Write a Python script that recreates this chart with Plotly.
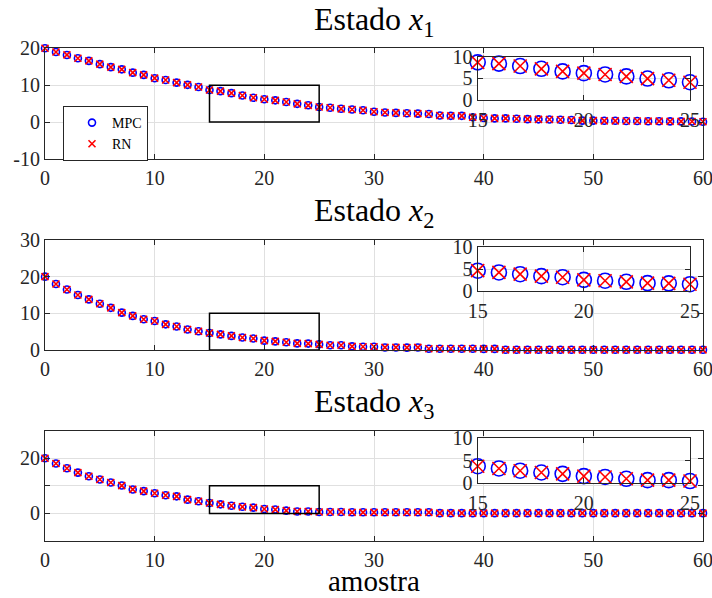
import plotly.graph_objects as go

# ---------------- data ----------------
samples = list(range(61))

x1_mpc = [20.0, 19.0, 18.2, 17.3, 16.6, 15.7, 14.9, 14.3, 13.4, 12.8,
          11.9, 11.4, 10.7, 10.1, 9.5, 8.7, 8.4, 7.85, 7.2, 6.6,
          6.2, 5.9, 5.45, 4.95, 4.55, 4.1, 3.9, 3.6, 3.4, 3.2,
          2.8, 2.6, 2.5, 2.4, 2.3, 2.2, 1.8, 1.7, 1.7, 1.3,
          1.1, 1.0, 1.0, 0.9, 0.8, 0.75, 0.7, 0.65, 0.55, 0.4,
          0.4, 0.35, 0.35, 0.3, 0.3, 0.25, 0.25, 0.2, 0.2, 0.15, 0.1]
x1_rn = list(x1_mpc)

x2_mpc = [20.0, 18.0, 16.5, 15.0, 13.8, 12.6, 11.5, 10.2, 9.3, 8.4,
          7.9, 7.0, 6.4, 5.6, 5.1, 4.65, 4.25, 3.85, 3.4, 3.15,
          2.55, 2.35, 2.1, 1.8, 1.75, 1.55, 1.3, 1.3, 1.0, 0.9,
          0.9, 0.7, 0.7, 0.65, 0.7, 0.35, 0.35, 0.35, 0.35, 0.35,
          0.3, 0.3, 0.05, 0.05, 0.05, 0.05, 0.05, 0.05, 0.05, 0.05,
          0.05, 0.05, 0.05, 0.05, 0.05, 0.05, 0.05, 0.05, 0.05, 0.05, 0.05]
x2_rn = list(x2_mpc)

x3_mpc = [20.0, 18.1, 16.4, 14.8, 13.5, 12.3, 11.2, 10.1, 8.7, 8.1,
          7.3, 6.6, 6.2, 5.0, 4.4, 3.8, 3.3, 2.8, 2.4, 2.1,
          1.6, 1.4, 1.0, 0.7, 0.7, 0.5, 0.5, 0.5, 0.4, 0.4,
          0.4, 0.4, 0.4, 0.4, 0.4, 0.4, 0.1, 0.1, 0.1, 0.1,
          0.1, 0.1, 0.1, 0.1, 0.1, 0.1, 0.1, 0.1, 0.1, 0.1,
          0.1, 0.1, 0.1, 0.1, 0.1, 0.1, 0.1, 0.1, 0.1, 0.1, 0.1]
x3_rn = list(x3_mpc)

titles = ["Estado <i>x</i><sub>1</sub>", "Estado <i>x</i><sub>2</sub>", "Estado <i>x</i><sub>3</sub>"]
x_label = "amostra"
series_names = ["MPC", "RN"]
zoom_x = [15, 25]
zoom_y = [0, 10]
main_xticks = [0, 10, 20, 30, 40, 50, 60]
inset_xticks = [15, 20, 25]
inset_yticks = [0, 5, 10]
y1_ticks = [-10, 0, 10, 20]
y1_text = ["-10", "0", "10", "20"]
y2_ticks = [0, 10, 20, 30]
y2_text = ["0", "10", "20", "30"]
y3_ticks = [-10, 0, 10, 20, 30]
y3_text = ["", "0", "", "20", ""]

# ---------------- layout geometry ----------------
W, H = 712, 598
def px_x(a, b):
    return [a / W, b / W]
def px_y(top, bottom):
    return [1 - bottom / H, 1 - top / H]

main_xdom = px_x(45, 703)
main_ydoms = [px_y(48.3, 159), px_y(240, 350), px_y(430.7, 541)]
inset_xdom = px_x(477.7, 690)
inset_ydoms = [px_y(56.7, 100), px_y(247.3, 291), px_y(438.3, 483.3)]

FONT = "Liberation Serif"
AX = "#262626"
GRID = "#e0e0e0"
BLUE = "#0000ff"
RED = "#ff0000"

fig = go.Figure()

data = [(x1_mpc, x1_rn), (x2_mpc, x2_rn), (x3_mpc, x3_rn)]

for i, (mpc, rn) in enumerate(data):
    mx = "x" if i == 0 else f"x{i+1}"
    my = "y" if i == 0 else f"y{i+1}"
    ix = f"x{i+4}"
    iy = f"y{i+4}"
    # main
    fig.add_trace(go.Scatter(x=samples, y=mpc, mode="markers", name=series_names[0],
                             marker=dict(symbol="circle-open", size=7, color=BLUE, line=dict(width=1.6, color=BLUE)),
                             xaxis=mx, yaxis=my, showlegend=(i == 0), cliponaxis=False, legendgroup="mpc"))
    fig.add_trace(go.Scatter(x=samples, y=rn, mode="markers", name=series_names[1],
                             marker=dict(symbol="x-thin-open", size=7, color=RED, line=dict(width=1.6, color=RED)),
                             xaxis=mx, yaxis=my, showlegend=(i == 0), cliponaxis=False, legendgroup="rn"))
    # inset
    sel = [k for k in samples if zoom_x[0] <= k <= zoom_x[1]]
    fig.add_trace(go.Scatter(x=sel, y=[mpc[k] for k in sel], mode="markers",
                             marker=dict(symbol="circle-open", size=15, color=BLUE, line=dict(width=1.6, color=BLUE)),
                             xaxis=ix, yaxis=iy, showlegend=False, cliponaxis=False))
    fig.add_trace(go.Scatter(x=sel, y=[rn[k] for k in sel], mode="markers",
                             marker=dict(symbol="x-thin-open", size=13, color=RED, line=dict(width=1.6, color=RED)),
                             xaxis=ix, yaxis=iy, showlegend=False, cliponaxis=False))
    # zoom box
    fig.add_shape(type="rect", xref=mx, yref=my, x0=zoom_x[0], x1=zoom_x[1], y0=zoom_y[0], y1=zoom_y[1],
                  line=dict(color="black", width=1.5), layer="above")

common = dict(showgrid=True, gridcolor=GRID, gridwidth=1, showline=True, linecolor=AX, linewidth=1.2,
              mirror="ticks", ticks="inside", ticklen=5, tickcolor=AX, zeroline=False, automargin=False,
              ticklabeloverflow="allow",
              tickfont=dict(family=FONT, size=20, color=AX))

ytick_sets = [(y1_ticks, y1_text, [-10, 20]), (y2_ticks, y2_text, [0, 30]), (y3_ticks, y3_text, [-10, 30])]
lay = {}
for i in range(3):
    sx = "" if i == 0 else str(i + 1)
    lay[f"xaxis{sx}"] = dict(common, domain=main_xdom, anchor=f"y{sx}", range=[0, 60],
                              tickvals=main_xticks, ticklabelstandoff=1)
    tv, tt, rg = ytick_sets[i]
    lay[f"yaxis{sx}"] = dict(common, domain=main_ydoms[i], anchor=f"x{sx}", range=rg,
                              tickvals=tv, ticktext=tt, ticklabelstandoff=0)
    j = str(i + 4)
    lay[f"xaxis{j}"] = dict(common, domain=inset_xdom, anchor=f"y{j}", range=zoom_x,
                             tickvals=inset_xticks, ticklabelstandoff=2)
    lay[f"yaxis{j}"] = dict(common, domain=inset_ydoms[i], anchor=f"x{j}", range=zoom_y,
                             tickvals=inset_yticks, ticklabelstandoff=0)

fig.update_layout(**lay)

title_y = [22, 212, 403]
for i, t in enumerate(titles):
    fig.add_annotation(text=t, xref="paper", yref="paper", x=374 / W, y=1 - title_y[i] / H,
                       xanchor="center", yanchor="middle", showarrow=False,
                       font=dict(family=FONT, size=32, color="black"))
fig.add_annotation(text=x_label, xref="paper", yref="paper", x=374 / W, y=0,
                   xanchor="center", yanchor="bottom", showarrow=False, borderpad=0,
                   font=dict(family=FONT, size=29, color="black"))

fig.update_layout(
    width=W, height=H, margin=dict(l=0, r=0, t=0, b=0, autoexpand=False),
    paper_bgcolor="white", plot_bgcolor="white",
    showlegend=True,
    legend=dict(x=63 / W, y=1 - 106 / H, xanchor="left", yanchor="top",
                bgcolor="white", bordercolor=AX, borderwidth=1,
                font=dict(family=FONT, size=14, color="black"),
                tracegroupgap=0, itemwidth=30, indentation=8),
)

fig.write_html("out.html", config={"displayModeBar": False},
               post_script="document.body.style.margin='0';document.body.style.overflow='hidden';")
